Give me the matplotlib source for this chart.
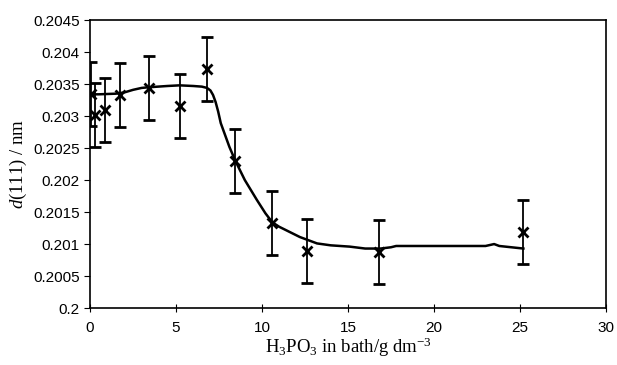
import matplotlib
matplotlib.use("Agg")
import matplotlib.pyplot as plt

plt.rcParams['mathtext.fontset'] = 'custom'
plt.rcParams['mathtext.rm'] = 'Liberation Serif'
plt.rcParams['mathtext.it'] = 'Liberation Serif:italic'

# mesures
conc = [0.05, 0.29, 0.87, 1.74, 3.4, 5.23, 6.8, 8.45, 10.6, 12.6, 16.8, 25.2]
d111 = [0.20334, 0.20302, 0.20309, 0.20333, 0.20344, 0.20316, 0.20373,
        0.20230, 0.20133, 0.20089, 0.20088, 0.20119]
err = [0.0005] * len(conc)

# courbe lissée
cx = [0.05, 0.5, 1.5, 2.0, 2.5, 3.0, 3.4, 4.5, 5.2, 6.0, 6.5, 6.8, 7.0, 7.15,
      7.3, 7.45, 7.6, 8.1, 8.45, 9.0, 9.7, 10.2, 10.6, 11.0, 11.45, 12.2, 13.2,
      14.0, 15.1, 16.0, 16.9, 17.5, 17.8, 19.9, 23.0, 23.5, 23.8, 25.2]
cy = [0.20334, 0.20334, 0.20335, 0.20337, 0.20341, 0.20344, 0.20345, 0.20347,
      0.20348, 0.20347, 0.20346, 0.20344, 0.20340, 0.20333, 0.20322, 0.20307,
      0.20289, 0.20252, 0.20230, 0.20200, 0.20169, 0.20148, 0.20134, 0.20127,
      0.20121, 0.20111, 0.20101, 0.20098, 0.20096, 0.20093, 0.20093, 0.20095,
      0.20097, 0.20097, 0.20097, 0.20100, 0.20097, 0.20093]

yticks = [0.2, 0.2005, 0.201, 0.2015, 0.202, 0.2025, 0.203, 0.2035, 0.204, 0.2045]
ylabels = ['0.2', '0.2005', '0.201', '0.2015', '0.202', '0.2025', '0.203',
           '0.2035', '0.204', '0.2045']

fig = plt.figure(figsize=(6.17, 3.65), dpi=100)
ax = fig.add_axes([0.146, 0.156, 0.836, 0.789])

ax.plot(cx, cy, color='black', lw=1.8)
ax.errorbar(conc, d111, yerr=err, fmt='x', color='black', ms=6.5, mew=2,
            ecolor='black', elinewidth=1.3, capsize=4.5, capthick=1.3)

ax.set_xlim(0, 30)
ax.set_ylim(0.2, 0.2045)
ax.set_xticks([0, 5, 10, 15, 20, 25, 30])
ax.set_yticks(yticks)
ax.set_yticklabels(ylabels)
ax.tick_params(axis='x', direction='inout', length=6, labelsize=11, pad=6)
ax.tick_params(axis='y', direction='out', length=4, labelsize=11)
for lab in ax.get_xticklabels() + ax.get_yticklabels():
    lab.set_family('Liberation Sans')
for s in ax.spines.values():
    s.set_linewidth(1.2)

ax.set_xlabel(r'H$_3$PO$_3$ in bath/g dm$^{-3}$', family='Liberation Serif',
              fontsize=13.5, labelpad=1)
ax.set_ylabel(r'$\it{d}$(111) / nm', family='Liberation Serif', fontsize=13.5,
              labelpad=3)

fig.savefig('out.png', dpi=100)
